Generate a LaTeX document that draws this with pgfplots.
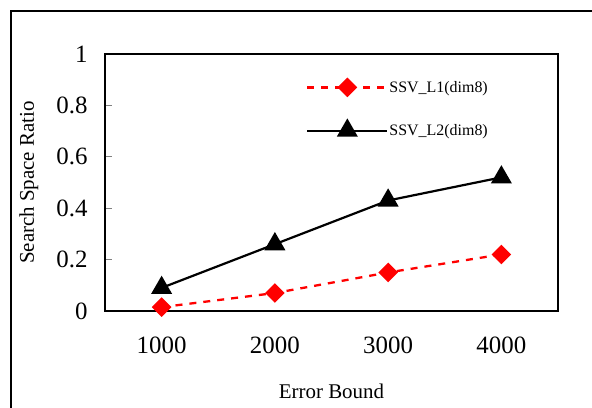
\documentclass[border=0pt]{standalone}
\usepackage{pgfplots}
\pgfplotsset{compat=1.18}
\usetikzlibrary{calc}
\usepackage{fontspec}
\setmainfont{Liberation Serif}

\begin{document}
\begin{tikzpicture}[x=1bp,y=1bp]
  \begin{axis}[
      scale only axis, width=453bp, height=257bp,
      xmin=0.5, xmax=4.5, ymin=0, ymax=1,
      xtick={1,2,3,4}, xticklabels={1000,2000,3000,4000},
      minor xtick={1.5,2.5,3.5},
      ytick={0,0.2,0.4,0.6,0.8,1},
      yticklabels={0,0.2,0.4,0.6,0.8,1},
      tick align=inside, tick pos=left,
      major tick length=7bp, minor tick length=7bp,
      xtick style={draw=none},
      minor tick style={draw=black, line width=0.8bp},
      ytick style={line width=0.8bp},
      axis line style={line width=1.2bp},
      /pgf/number format/assume math mode=true,
      ticklabel style={font=\fontsize{25}{25}\selectfont},
      yticklabel style={xshift=-14bp},
      xticklabel style={yshift=-22bp},
      xlabel={Error Bound},
      ylabel={Search Space Ratio},
      label style={font=\fontsize{21}{21}\selectfont},
      xlabel style={at={(axis description cs:0.5,-0.3385)}, anchor=base},
      ylabel style={at={(axis description cs:-0.168,0.5)}, anchor=center},
      legend style={draw=none, fill=none, inner sep=0pt,
        at={(axis description cs:0.4437,0.9027)}, anchor=north west,
        font=\fontsize{16}{16}\selectfont, row sep=25bp,
        nodes={inner sep=1bp, anchor=west}},
      legend image code/.code={%
        \draw[mark repeat=2, mark phase=2, #1] plot coordinates {(0,0) (40bp,0) (80bp,0)};},
    ]
    \addplot[red, line width=2.3bp, dash pattern=on 7bp off 7bp,
      mark=square*, mark size=5.8bp,
      mark options={solid, rotate=45, fill=red}]
      coordinates {(1,0.015) (2,0.07) (3,0.15) (4,0.22)};
    \addlegendentry{SSV\_L1(dim8)}
    \addplot[black, line width=2.2bp, mark=triangle*, mark size=10bp,
      mark options={solid, fill=black}]
      coordinates {(1,0.09) (2,0.26) (3,0.43) (4,0.52)};
    \addlegendentry{SSV\_L2(dim8)}
    \coordinate (sw) at (rel axis cs:0,0);
  \end{axis}
  \pgfresetboundingbox
  \path[use as bounding box] ($(sw)+(-105,-96)$) rectangle ++(592,407);
  % chart frame (right and bottom edges fall outside the picture)
  \draw[line width=1.2bp] ($(sw)+(-94,-120)$) -- ++(0,420) -- ++(620,0);
\end{tikzpicture}
\end{document}
